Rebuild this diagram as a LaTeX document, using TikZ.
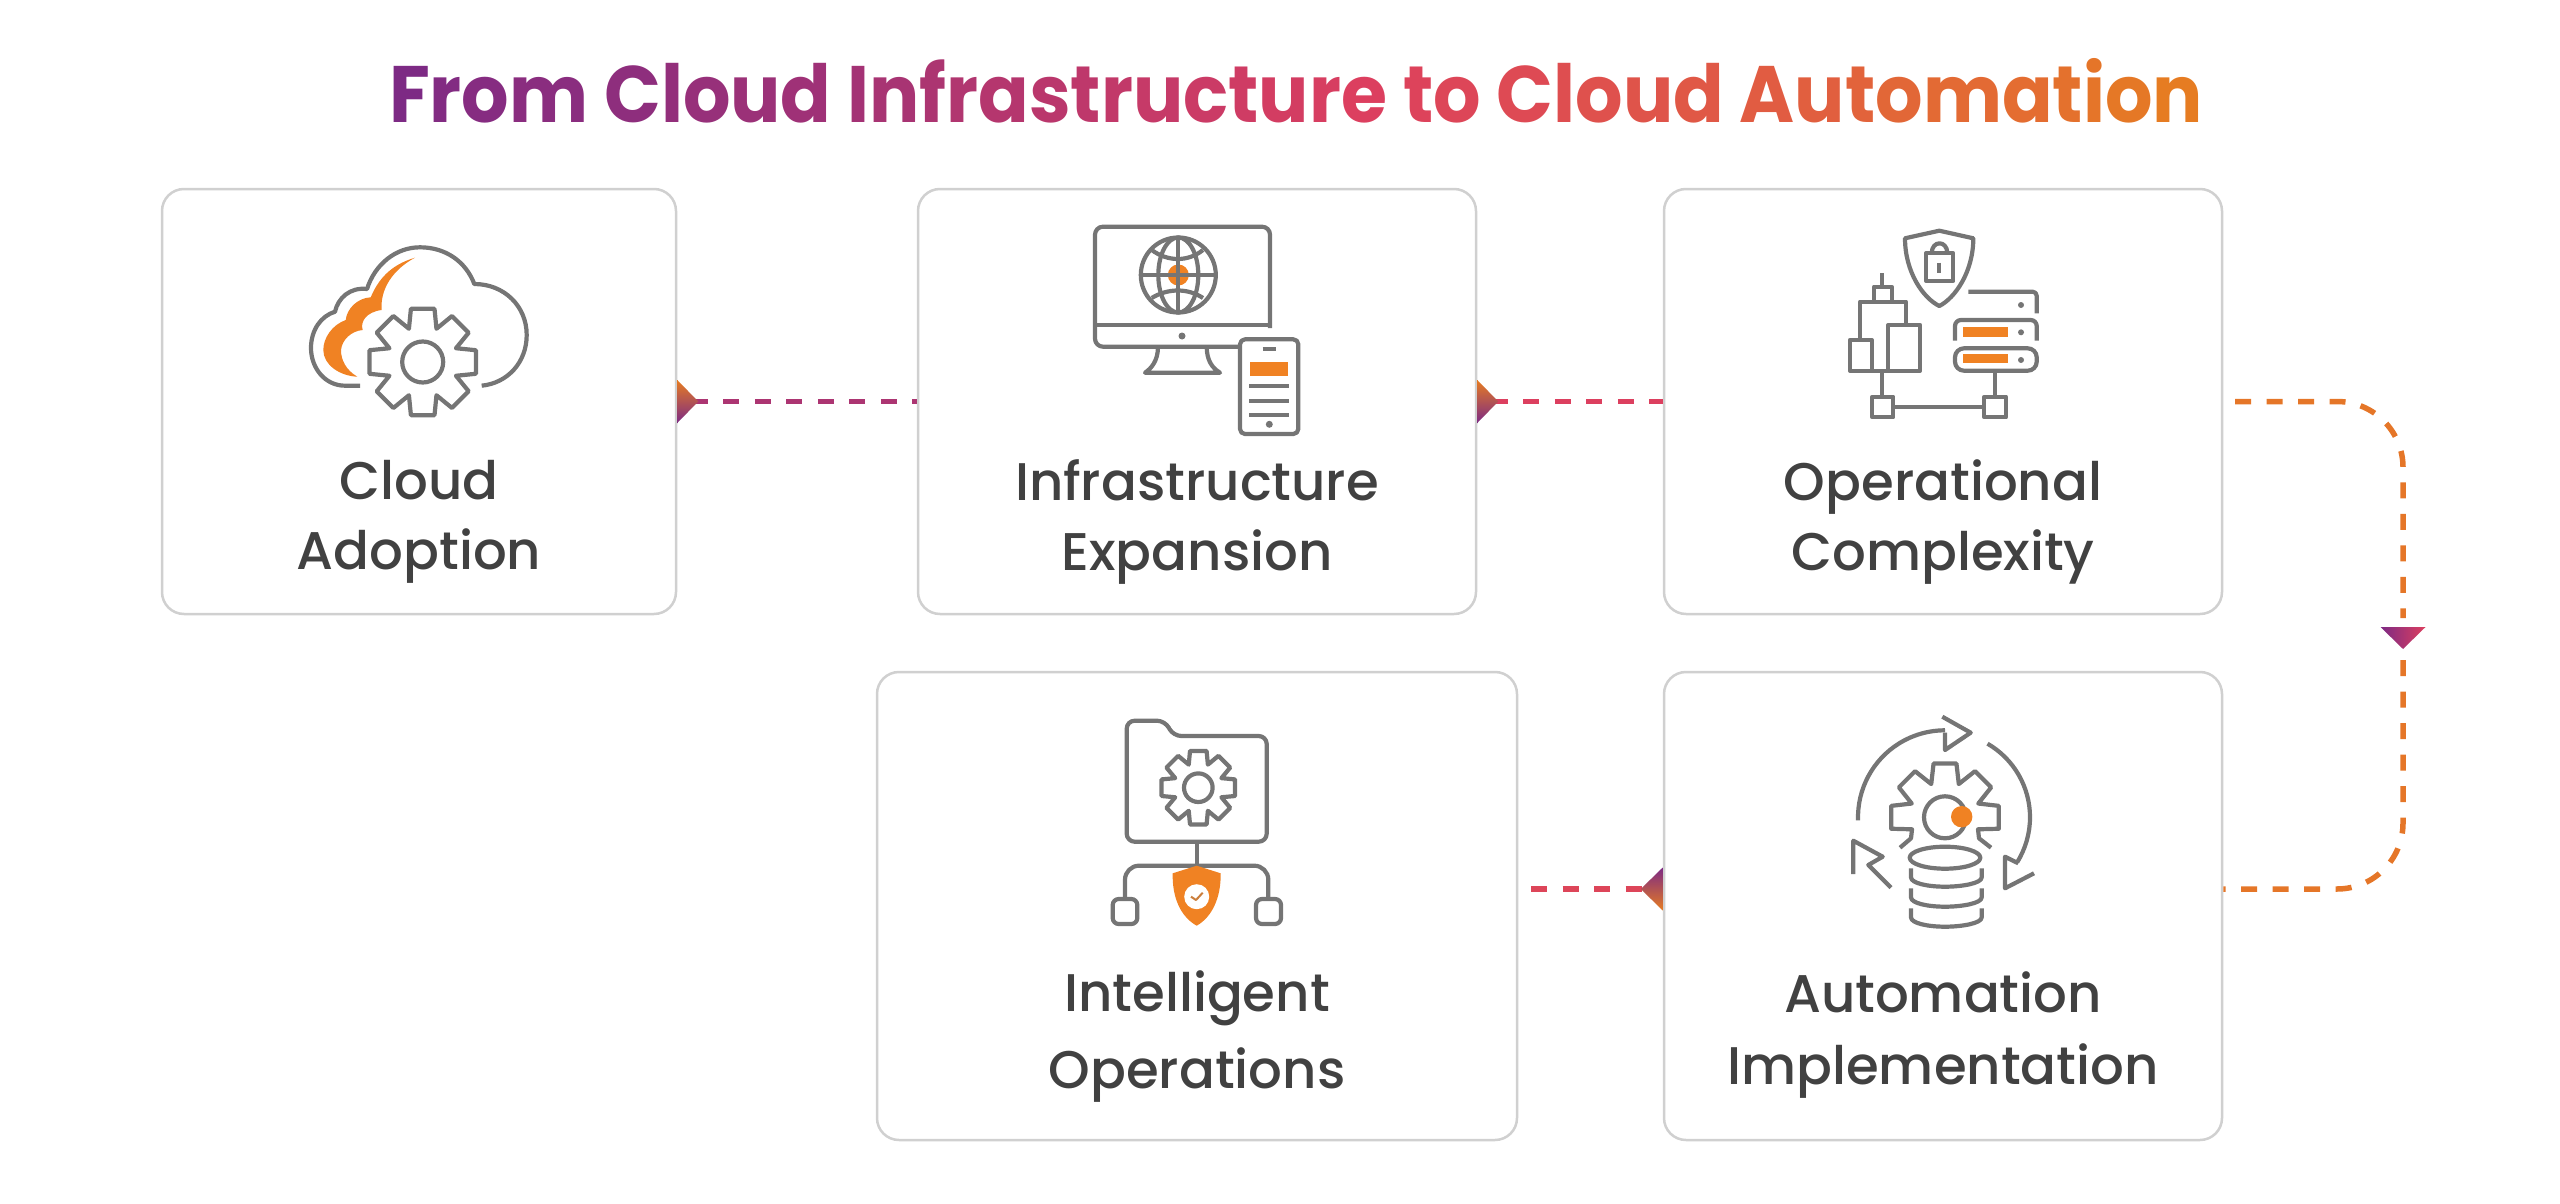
\documentclass[tikz,border=0pt]{standalone}
\usepackage{fontspec}
\setmainfont{Poppins Medium}
\newfontfamily\ttlfont[FakeStretch=0.933]{Poppins Bold}
\usetikzlibrary{positioning}

\definecolor{ttlPurple}{HTML}{7D2A84}
\definecolor{ttlPink}{HTML}{DC3F5F}
\definecolor{ttlOrange}{HTML}{E67C22}
\definecolor{iconGrey}{HTML}{757575}
\definecolor{iconOrange}{HTML}{F08223}
\definecolor{boxGrey}{HTML}{D0D0D0}
\definecolor{labelGrey}{HTML}{414141}

% one colour per letter of the title
\newcount\ttlpos
\makeatletter
\newcommand\ttlword[1]{\@tfor\ttlch:=#1\do{%
    \advance\ttlpos by 1
    \ifnum\ttlpos<24
        \textcolor{ttlPink!\the\numexpr(\ttlpos-1)*100/22\relax!ttlPurple}{\ttlch}%
    \else
        \textcolor{ttlOrange!\the\numexpr(\ttlpos-23)*100/17\relax!ttlPink}{\ttlch}%
    \fi}}
\makeatother

\begin{document}
\begin{tikzpicture}[x=1pt,y=-1pt]
    \tikzstyle{stage box}=[draw=boxGrey,line width=2.5pt,rounded corners=22pt,inner sep=0pt]
    \tikzstyle{stage label}=[text=labelGrey,align=center,inner sep=0pt,font=\fontsize{53}{70}\selectfont]
    \tikzstyle{icon}=[draw=iconGrey,line width=4.2pt,line join=round]
    \tikzstyle{spot}=[fill=iconOrange]
    \tikzstyle{dot}=[fill=iconGrey]
    \tikzstyle{link}=[line width=5.5pt,dash pattern=on 16pt off 15.5pt,dash phase=17pt]

    \useasboundingbox (0,0) rectangle (2560,1204);

    \node[text=ttlPurple,inner sep=0pt,anchor=base,font=\ttlfont\fontsize{80}{80}\selectfont] (title) at (1296,123)
        {\ttlword{From} \ttlword{Cloud} \ttlword{Infrastructure} \ttlword{to} \ttlword{Cloud} \ttlword{Automation}};

    % Draw the stage boxes
    \foreach \name / \x / \y / \w / \h in {cloud/419/401.5/514/425,infra/1197/401.5/558/425,complex/1943/401.5/558/425,intel/1197/906/640/468,auto/1943/906/558/468}
        \node[stage box,minimum width=\w pt,minimum height=\h pt] (\name) at (\x,\y) {};

    % Draw the labels
    \node[stage label] (cloud-l) at (419,522) {Cloud\\Adoption};
    \node[stage label] (infra-l) at (1197,522) {Infrastructure\\Expansion};
    \node[stage label] (complex-l) at (1943,522) {Operational\\Complexity};
    \node[stage label,font=\fontsize{53}{77}\selectfont] (intel-l) at (1197,1037) {Intelligent\\Operations};
    \node[stage label,font=\fontsize{53}{72}\selectfont] (auto-l) at (1943,1035) {Automation\\Implementation};

    % Free ends of the connectors
    \coordinate (out3) at (2235,401.5);
    \coordinate (down) at (2403,640);
    \coordinate (stop3) at (2403,618);
    \coordinate (start5) at (2403,660);
    \coordinate (in5) at (auto.west |- 0,889);
    \coordinate (out5) at (auto.east |- 0,889);
    \coordinate (in4) at (1531,889);

    % Connect the boxes
    \draw[link,draw=ttlPink!50!ttlPurple] (cloud) -- (infra);
    \draw[link,draw=ttlPink] (infra) -- (complex);
    \draw[link,draw=ttlOrange!90!ttlPink,rounded corners=66pt,dash phase=0pt] (out3) -| (stop3);
    \draw[link,draw=ttlOrange!90!ttlPink,rounded corners=66pt,dash phase=0pt] (start5) |- (out5);
    \draw[link,draw=ttlPink!90!ttlOrange,dash phase=0pt] (in4) -- (in5);

    % Tips on the connectors
    \shade[top color=ttlOrange,middle color=ttlPink,bottom color=ttlPurple] (cloud.east) ++(0,-21.5) -- ++(21,21.5) -- ++(-21,21.5) -- cycle;
    \shade[top color=ttlOrange,middle color=ttlPink,bottom color=ttlPurple] (infra.east) ++(0,-21.5) -- ++(21,21.5) -- ++(-21,21.5) -- cycle;
    \shade[left color=ttlPurple,right color=ttlPink] (down) ++(-22.5,-13) -- ++(45,0) -- ++(-22.5,22) -- cycle;
    \shade[top color=ttlPurple,middle color=ttlPink,bottom color=ttlOrange] (in5) ++(0,-21.5) -- ++(-22,21.5) -- ++(22,21.5) -- cycle;

    % Cloud icon
    \fill[spot] (415,257.7) .. controls (390,265) and (378,280) .. (370.7,297.3)
        .. controls (358,298) and (347,308) .. (345.7,320)
        .. controls (332,325) and (323.3,338) .. (323.3,350)
        .. controls (323.3,365) and (340,376) .. (357.3,376.7)
        .. controls (346,370) and (341,360) .. (341,350)
        .. controls (342,340) and (351,331) .. (362.7,330)
        .. controls (360,322) and (366,312) .. (381.7,310)
        .. controls (380,290) and (392,270) .. (415,257.7) -- cycle;
    \draw[icon] (360,385.7) -- (345,385.7) .. controls (325,385.7) and (311,368) .. (311,348)
        .. controls (311,330) and (321,316) .. (335,311.7)
        .. controls (338,298) and (350,287) .. (367,289)
        .. controls (375,264) and (396,247.3) .. (420,247.3)
        .. controls (446,247.3) and (466,262) .. (474.3,284)
        .. controls (504,284) and (526.7,306) .. (526.7,335)
        .. controls (526.7,362) and (508,383) .. (481.7,385.7);
    \begin{scope}[shift={(422.7,362)}]
        \draw[icon] (-12.5:54.5) \foreach \a in {0,45,...,315}{ -- (\a-12.5:54.5) -- (\a+12.5:54.5) -- (\a+22.5:36)} -- cycle;
        \draw[icon] (0,0) circle (20.5);
    \end{scope}

    % Monitor icon
    \fill[spot] (1178.3,275) circle (10.5);
    \draw[icon,rounded corners=8pt] (1270,328) -- (1270,226.7) -- (1095,226.7) -- (1095,346.7) -- (1240,346.7);
    \draw[icon] (1095,325) -- (1270,325);
    \fill[dot] (1182,336) circle (3.5);
    \draw[icon] (1158,346.7) .. controls (1158,360) and (1152,368) .. (1145,372.7) -- (1220,372.7) .. controls (1212,368) and (1206.7,360) .. (1206.7,346.7);
    \draw[icon] (1178.3,275) circle (37.5);
    \draw[icon] (1178.3,275) ellipse (20 and 37.5);
    \draw[icon] (1178.3,237.5) -- (1178.3,312.5) (1140.8,275) -- (1215.8,275);
    \draw[icon] (1151.7,250) .. controls (1168,262) and (1188,262) .. (1203,250);
    \draw[icon] (1151.7,298) .. controls (1168,288) and (1188,288) .. (1203,298);
    \draw[icon,rounded corners=5pt] (1240,339.3) rectangle (1298.3,434);
    \draw[icon] (1262.7,349.3) -- (1276,349.3);
    \fill[spot] (1250,361.7) rectangle (1288.3,376);
    \foreach \y in {386,400.7,415}
        \draw[icon] (1249.3,\y) -- (1289.3,\y);
    \fill[dot] (1269.3,424.3) circle (3.5);

    % Shield, tower and server icon
    \draw[icon] (1939.3,230.7) -- (1973.3,238.3) .. controls (1973.3,272) and (1955,298) .. (1939.3,306)
        .. controls (1923,298) and (1905,272) .. (1905,238.3) -- cycle;
    \draw[icon] (1926,253.3) rectangle (1953.3,281);
    \draw[icon] (1931.7,253.3) .. controls (1931.7,240) and (1947.3,240) .. (1947.3,253.3);
    \draw[icon] (1939.3,262.7) -- (1939.3,272.7);
    \draw[icon] (1882.3,273.3) -- (1882.3,286.7);
    \draw[icon] (1874,301.7) -- (1874,286.7) -- (1891.7,286.7) -- (1891.7,301.7);
    \draw[icon] (1860,340) -- (1860,301.7) -- (1906,301.7) -- (1906,325);
    \draw[icon] (1888.3,370.7) -- (1888.3,325) -- (1920,325) -- (1920,370.7) -- (1850,370.7) -- (1850,340) -- (1871.7,340) -- (1871.7,370.7);
    \draw[icon] (1882.3,370.7) -- (1882.3,396.7);
    \draw[icon] (1872.3,396.7) rectangle (1893.3,417.3);
    \draw[icon] (1984.3,396.7) rectangle (2006,417.3);
    \draw[icon] (1893.3,406.7) -- (1984.3,406.7);
    \draw[icon] (1995,370.7) -- (1995,396.7);
    \draw[icon,rounded corners=4pt] (1968.3,291.7) -- (2036.7,291.7) -- (2036.7,313.3);
    \draw[icon,rounded corners=6pt] (1955,340.7) -- (1955,320) -- (2036.7,320) -- (2036.7,340.7);
    \draw[icon,rounded corners=9pt] (1955,348.3) rectangle (2036.7,370.7);
    \fill[spot] (1963.3,327.3) rectangle (2008.3,337.3);
    \fill[spot] (1963.3,354.3) rectangle (2008.3,363.3);
    \foreach \y in {305,332.3,360}
        \fill[dot] (2021,\y) circle (3);

    % Folder icon
    \draw[icon,rounded corners=8pt] (1126.7,720.7) -- (1165,720.7) -- (1173.3,736) -- (1266.7,736) -- (1266.7,841.7) -- (1126.7,841.7) -- cycle;
    \begin{scope}[shift={(1198.3,787.7)}]
        \draw[icon] (-12.7:37.7) \foreach \a in {0,45,...,315}{ -- (\a-12.7:37.7) -- (\a+12.7:37.7) -- (\a+22.5:25)} -- cycle;
        \draw[icon] (0,0) circle (14.3);
    \end{scope}
    \draw[icon] (1196.7,841.7) -- (1196.7,865.7);
    \draw[icon,rounded corners=14pt] (1125,899) -- (1125,865.7) -- (1268.3,865.7) -- (1268.3,899);
    \draw[icon,rounded corners=6pt] (1112.7,899) rectangle (1137.3,924);
    \draw[icon,rounded corners=6pt] (1256,899) rectangle (1281,924);
    \fill[spot] (1196.7,865.7) -- (1220.7,873.3) .. controls (1221,898) and (1212,917) .. (1196.7,925.7)
        .. controls (1181,917) and (1172,898) .. (1172.7,873.3) -- cycle;
    \fill[white] (1196.7,896.7) circle (12.5);
    \draw[icon,line width=2pt,draw=iconOrange!70!iconGrey] (1191,896.7) -- (1196,900) -- (1202.7,892.7);

    % Automation icon
    \begin{scope}[shift={(1945,817.3)}]
        \draw[icon] (-45,30.4) -- (-34,21) -- (-33,12) \foreach \a in {180,225,270,315}{ -- (\a-12:55) -- (\a+12:55) -- (\a+22.5:36)} -- (-12:55) -- (12:55) -- (33,12) -- (34,21) -- (46,30.4);
        \draw[icon] (0,0) circle (21);
        \fill[spot] (16.7,-0.6) circle (10.7);
        \draw[icon] (178:87) arc (178:270:87);
        \draw[icon] (300:85) arc (300:392:85);
        \draw[icon] (-2.7,-100.6) -- (25.7,-84.6) -- (0,-67.3) -- (0,-84.6);
        \draw[icon] (60,39.4) -- (60,71) -- (89,56) (60,71) -- (60,39.4) -- (73.3,46);
        \draw[icon] (-91.7,56.7) -- (-91.7,23.4) -- (-62.3,39.4) -- (-76.7,47.7) -- (-54,70.4);
    \end{scope}
    \foreach \y in {868.3,888.3,908.3}
        \draw[icon] (1911,\y) -- (1911,\y+9) .. controls (1911,\y+15) and (1928,\y+18.4) .. (1945,\y+18.4) .. controls (1962,\y+18.4) and (1981.7,\y+15) .. (1981.7,\y+9) -- (1981.7,\y);
    \draw[icon] (1945,857.7) ellipse (35.3 and 11);
\end{tikzpicture}
\end{document}
